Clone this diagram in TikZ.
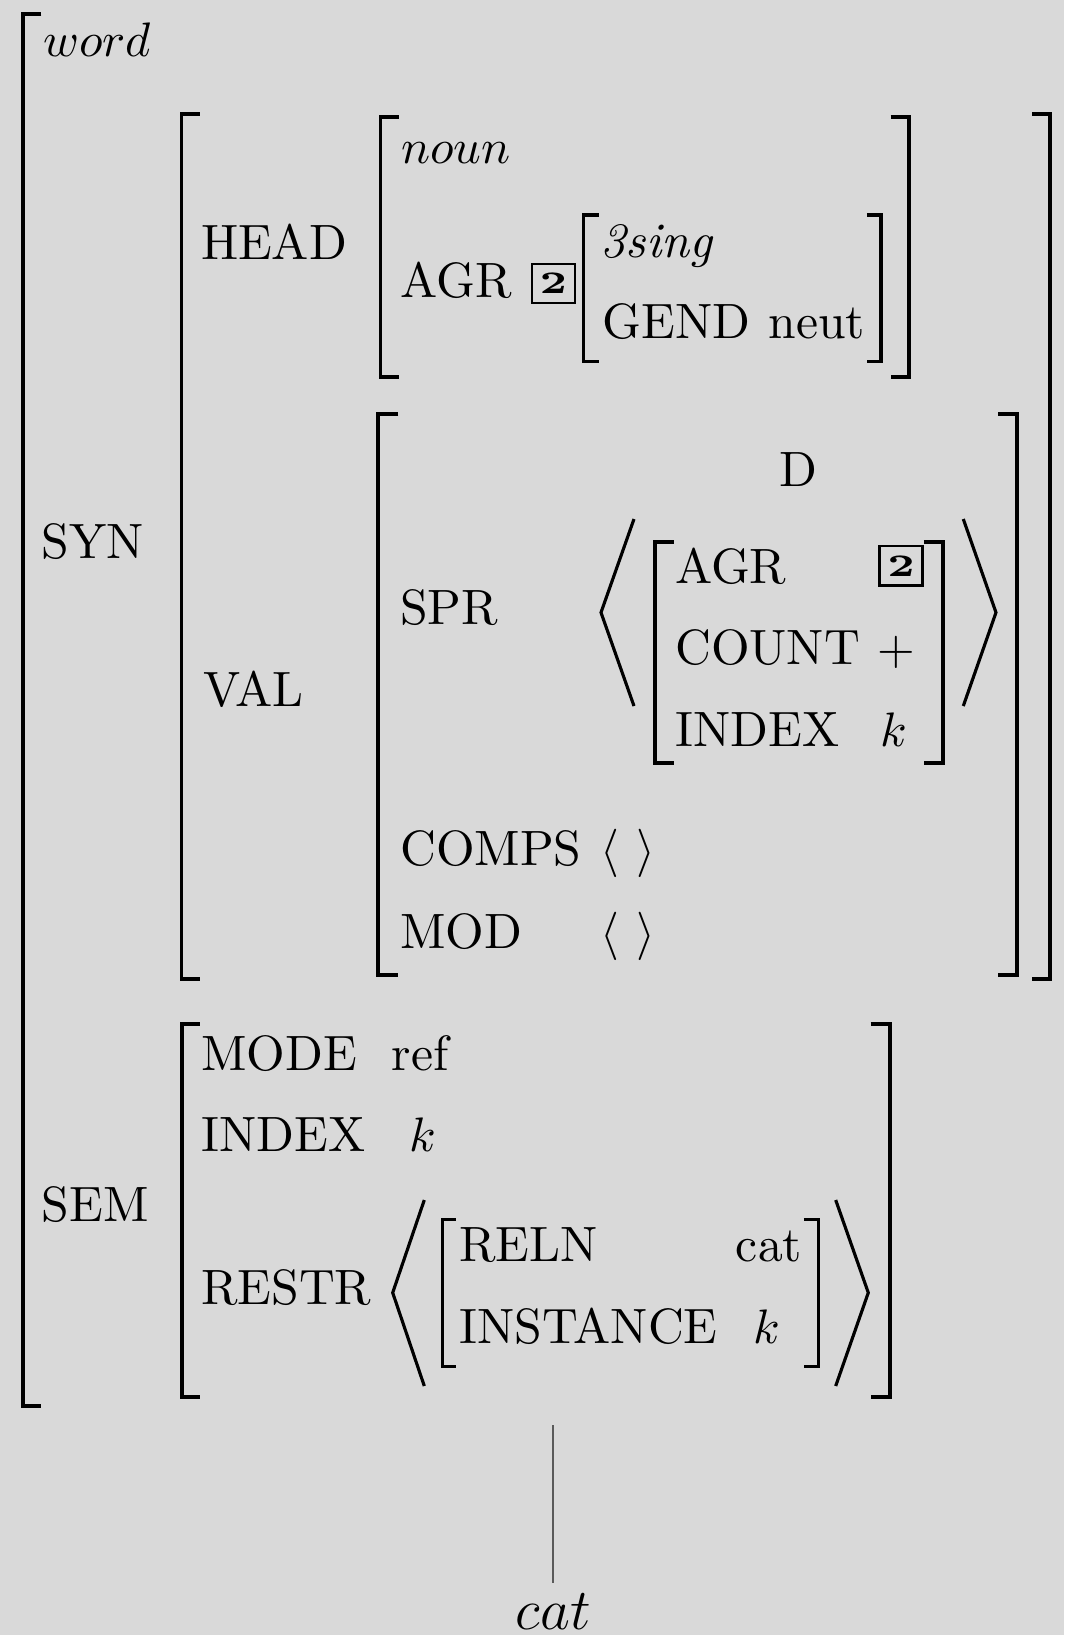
\documentclass[tikz,border=0pt]{standalone}
\usepackage{graphicx}
\definecolor{bg}{RGB}{217,217,217}
\definecolor{treegray}{RGB}{90,90,90}
\newcommand{\tagtwo}{\scalebox{1.35}[1]{\fontsize{6.5}{7}\selectfont\bfseries 2}}
\begin{document}
\begin{tikzpicture}[x=0.2066pt,y=-0.2066pt,
  t/.style={anchor=base west,inner sep=0pt,outer sep=0pt,font=\fontsize{10.25}{12.3}\selectfont},
  tc/.style={anchor=base,inner sep=0pt,outer sep=0pt,font=\fontsize{10.25}{12.3}\selectfont},
  brk/.style={line width=0.8pt,line join=miter,line cap=butt},
  sbrk/.style={line width=0.65pt,line join=miter,line cap=butt},
  ang/.style={line width=0.65pt,line join=miter},
  tagbox/.style={draw,line width=0.45pt,minimum width=8.9pt,minimum height=8.1pt,inner sep=0pt},
  ]
\fill[bg] (0,0) rectangle (1064,1635);
\useasboundingbox (0,0) rectangle (1064,1635);

% outer word bracket
\draw[brk] (41.3,14) -- (22.7,14) -- (22.7,1406.3) -- (40.7,1406.3);
\node[t] (word) at (43.5,56) {$word$};
\node[t] (syn) at (42,558.7) {SYN};
\node[t] (sem) at (42,1221.7) {SEM};

% SYN bracket
\draw[brk] (200,114) -- (181.5,114) -- (181.5,979) -- (200,979);
\draw[brk] (1032.5,114) -- (1050,114) -- (1050,979) -- (1032.5,979);

% HEAD
\node[t] (head) at (201,259.3) {HEAD};
\draw[brk] (398.8,117) -- (380.5,117) -- (380.5,377) -- (398.8,377);
\draw[brk] (890.6,117) -- (909.3,117) -- (909.3,377) -- (890.6,377);
\node[t] (noun) at (401.5,163.3) {$noun$};
\node[t] (agr1) at (400.5,297.7) {AGR};
\node[tagbox] (tag1) at (553.4,283.3) {\tagtwo};
\draw[sbrk] (599,215) -- (583.5,215) -- (583.5,361.7) -- (599,361.7);
\draw[sbrk] (867,215) -- (881,215) -- (881,361.7) -- (867,361.7);
\node[t] (sing) at (600.5,257.7) {\textit{3sing}};
\node[t] (gend) at (602.5,338.3) {GEND};
\node[t] (neut) at (768.5,338.3) {neut};

% VAL
\node[t] (val) at (203.5,706.2) {VAL};
\draw[brk] (398.3,413.6) -- (378.3,413.6) -- (378.3,975) -- (398.3,975);
\draw[brk] (998.3,413.6) -- (1017.3,413.6) -- (1017.3,975) -- (998.3,975);
\node[t] (spr) at (400.2,624.4) {SPR};
\node[tc] (dlabel) at (798.4,486) {D};
\draw[ang] (634,519) -- (601,612.5) -- (634,706);
\draw[brk] (674,542.1) -- (655,542.1) -- (655,762.8) -- (674,762.8);
\draw[brk] (924,542.1) -- (942.7,542.1) -- (942.7,762.8) -- (924,762.8);
\draw[ang] (963.3,519) -- (996,612.5) -- (963.3,706);
\node[t] (agr2) at (675.2,583.6) {AGR};
\node[tagbox] (tag2) at (901,565.8) {\tagtwo};
\node[t] (count) at (675.2,664.7) {COUNT};
\node[t] (plus) at (877.3,664.7) {$+$};
\node[t] (index1) at (675.2,746.9) {INDEX};
\node[t] (k1) at (880,746.9) {$k$};
\node[t] (comps) at (400.2,865.6) {COMPS};
\node[t] (compsv) at (600,865.6) {$\langle\hspace{3.7pt}\rangle$};
\node[t] (mod) at (400.2,948.2) {MOD};
\node[t] (modv) at (600,948.2) {$\langle\hspace{3.7pt}\rangle$};

% SEM
\draw[brk] (200,1024) -- (181.7,1024) -- (181.7,1396.7) -- (200,1396.7);
\draw[brk] (870.7,1024) -- (890,1024) -- (890,1396.7) -- (870.7,1396.7);
\node[t] (mode) at (201.2,1070) {MODE};
\node[t] (ref) at (392,1070) {ref};
\node[t] (index2) at (201.2,1151.7) {INDEX};
\node[t] (k2) at (409.5,1151.7) {$k$};
\node[t] (restr) at (201.2,1304) {RESTR};
\draw[ang] (424.3,1200) -- (392.7,1292.7) -- (424.3,1386);
\draw[sbrk] (456,1219.3) -- (442.7,1219.3) -- (442.7,1366.7) -- (456,1366.7);
\draw[sbrk] (804,1219.3) -- (818.3,1219.3) -- (818.3,1366.7) -- (804,1366.7);
\draw[ang] (835.7,1200) -- (868.3,1292.7) -- (835.7,1386);
\node[t] (reln) at (459.3,1261.7) {RELN};
\node[t] (catv) at (736,1261.7) {cat};
\node[t] (inst) at (459.3,1343.3) {INSTANCE};
\node[t] (k3) at (754,1343.3) {$k$};

% tree branch to leaf
\coordinate (avmbot) at (553.3,1425);
\node[anchor=base,inner sep=2pt,font=\large] (leaf) at (553.3,1629) {$cat$};
\draw[treegray,line width=0.4pt] (avmbot) -- (leaf);
\end{tikzpicture}
\end{document}
